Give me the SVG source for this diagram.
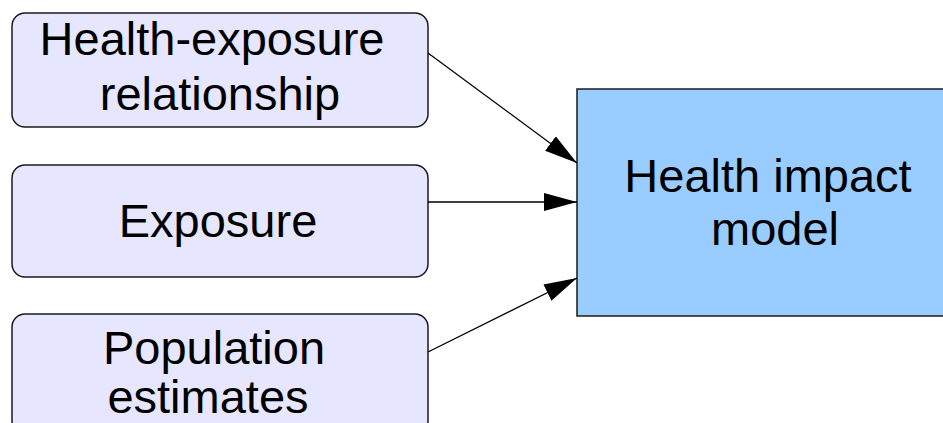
<svg xmlns="http://www.w3.org/2000/svg" width="943" height="423" viewBox="0 0 943 423">
<style>
.src{fill:#e6e6ff;stroke:#1a1a1a;stroke-width:1.5}
.dst{fill:#99ccff;stroke:#1a1a1a;stroke-width:1.5}
.lbl{font-family:"Liberation Sans",Arial,sans-serif;font-size:47px;fill:#000;text-anchor:middle}
.edge{stroke:#000;stroke-width:1.3;fill:none}
</style>
<defs>
<marker id="ah" markerUnits="userSpaceOnUse" markerWidth="34" markerHeight="20" refX="33" refY="10" orient="auto">
<path d="M0,1 L33,10 L0,19 Z" fill="#000"/>
</marker>
</defs>
<rect width="943" height="423" fill="#fff"/>
<g id="n-her">
<rect class="src" x="12" y="13" width="416" height="114" rx="13"/>
<text class="lbl" x="212" y="55">Health-exposure</text>
<text class="lbl" x="220" y="110">relationship</text>
</g>
<g id="n-exp">
<rect class="src" x="12" y="165" width="416" height="112" rx="13"/>
<text class="lbl" x="218" y="237">Exposure</text>
</g>
<g id="n-pop">
<rect class="src" x="12" y="314" width="416" height="120" rx="13"/>
<text class="lbl" x="214" y="364">Population</text>
<text class="lbl" x="208" y="413">estimates</text>
</g>
<g id="n-him">
<rect class="dst" x="577" y="89" width="383" height="227"/>
<text class="lbl" x="768" y="192">Health impact</text>
<text class="lbl" x="775" y="245">model</text>
</g>
<g id="edges">
<line class="edge" x1="428" y1="53" x2="577" y2="163" marker-end="url(#ah)"/>
<line class="edge" x1="428" y1="202" x2="577" y2="202" marker-end="url(#ah)"/>
<line class="edge" x1="428" y1="352" x2="577" y2="278" marker-end="url(#ah)"/>
</g>
</svg>
